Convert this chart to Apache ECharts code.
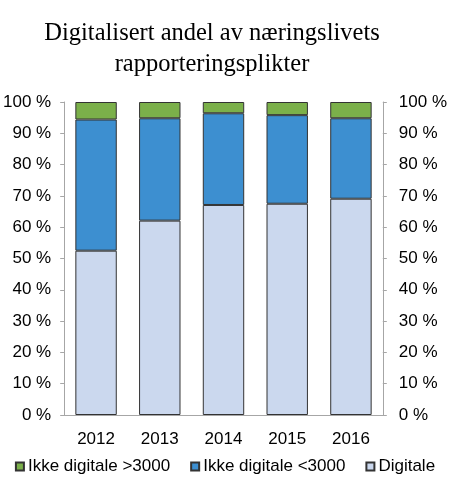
<!DOCTYPE html>
<html>
<head>
    <meta charset="utf-8">
    <title>Digitalisert andel</title>
    <script src="https://cdn.jsdelivr.net/npm/echarts@6/dist/echarts.min.js"></script>
    <style>
        html, body { margin: 0; padding: 0; background: #fff; }
        #chart { width: 450px; height: 494px; }
    </style>
</head>
<body>
<div id="chart"></div>
<script type="text/javascript">
    // data (percent)
    var years = ['2012', '2013', '2014', '2015', '2016'];
    var digitale = [52.5, 62.1, 67.1, 67.5, 69.1];
    var ikkeUnder3000 = [41.9, 32.7, 29.3, 28.3, 25.7];
    var ikkeOver3000 = [5.6, 5.2, 3.6, 4.2, 5.2];
    var yTicks = [0, 10, 20, 30, 40, 50, 60, 70, 80, 90, 100];

    var sans = '"Liberation Sans", Arial, sans-serif';
    var axisGray = '#a6a6a6';

    function yAxisFor(pos) {
        return {
            type: 'value',
            position: pos,
            min: yTicks[0],
            max: yTicks[yTicks.length - 1],
            interval: yTicks[1] - yTicks[0],
            axisLine: { show: true, lineStyle: { color: axisGray } },
            axisTick: { show: true, length: 4, lineStyle: { color: axisGray } },
            splitLine: { show: false },
            axisLabel: {
                margin: pos === 'left' ? 13 : 16,
                color: '#000',
                fontFamily: sans,
                fontSize: 17,
                formatter: '{value} %'
            }
        };
    }

    function barSeries(name, data, color) {
        return {
            name: name,
            type: 'bar',
            stack: 'total',
            barWidth: '65%',
            data: data,
            itemStyle: { color: color, borderColor: '#333', borderWidth: 1 }
        };
    }

    var myChart = echarts.init(document.getElementById('chart'));
    myChart.setOption({
        animation: false,
        backgroundColor: '#fff',
        title: {
            text: 'Digitalisert andel av næringslivets\nrapporteringsplikter',
            left: 207,
            top: 13,
            textAlign: 'center',
            textStyle: {
                fontFamily: '"Liberation Serif", "Times New Roman", serif',
                fontWeight: 'normal',
                fontSize: 24.5,
                lineHeight: 31,
                color: '#000'
            }
        },
        grid: { left: 62, right: 65, top: 102, bottom: 79 },
        legend: {
            top: 453,
            left: 'center',
            itemWidth: 8,
            itemHeight: 8,
            itemGap: 20,
            icon: 'rect',
            textStyle: { fontFamily: sans, fontSize: 17, color: '#000', padding: [0, 0, 0, -1] },
            data: ['Ikke digitale >3000', 'Ikke digitale <3000', 'Digitale']
        },
        xAxis: {
            type: 'category',
            data: years,
            axisLine: { lineStyle: { color: axisGray } },
            axisTick: { length: 4, lineStyle: { color: axisGray } },
            axisLabel: { margin: 16, color: '#000', fontFamily: sans, fontSize: 17 }
        },
        yAxis: [yAxisFor('left'), yAxisFor('right')],
        series: [
            barSeries('Digitale', digitale, '#cbd8ee'),
            barSeries('Ikke digitale <3000', ikkeUnder3000, '#3d8fd0'),
            barSeries('Ikke digitale >3000', ikkeOver3000, '#7bb04a')
        ]
    });
</script>
</body>
</html>
